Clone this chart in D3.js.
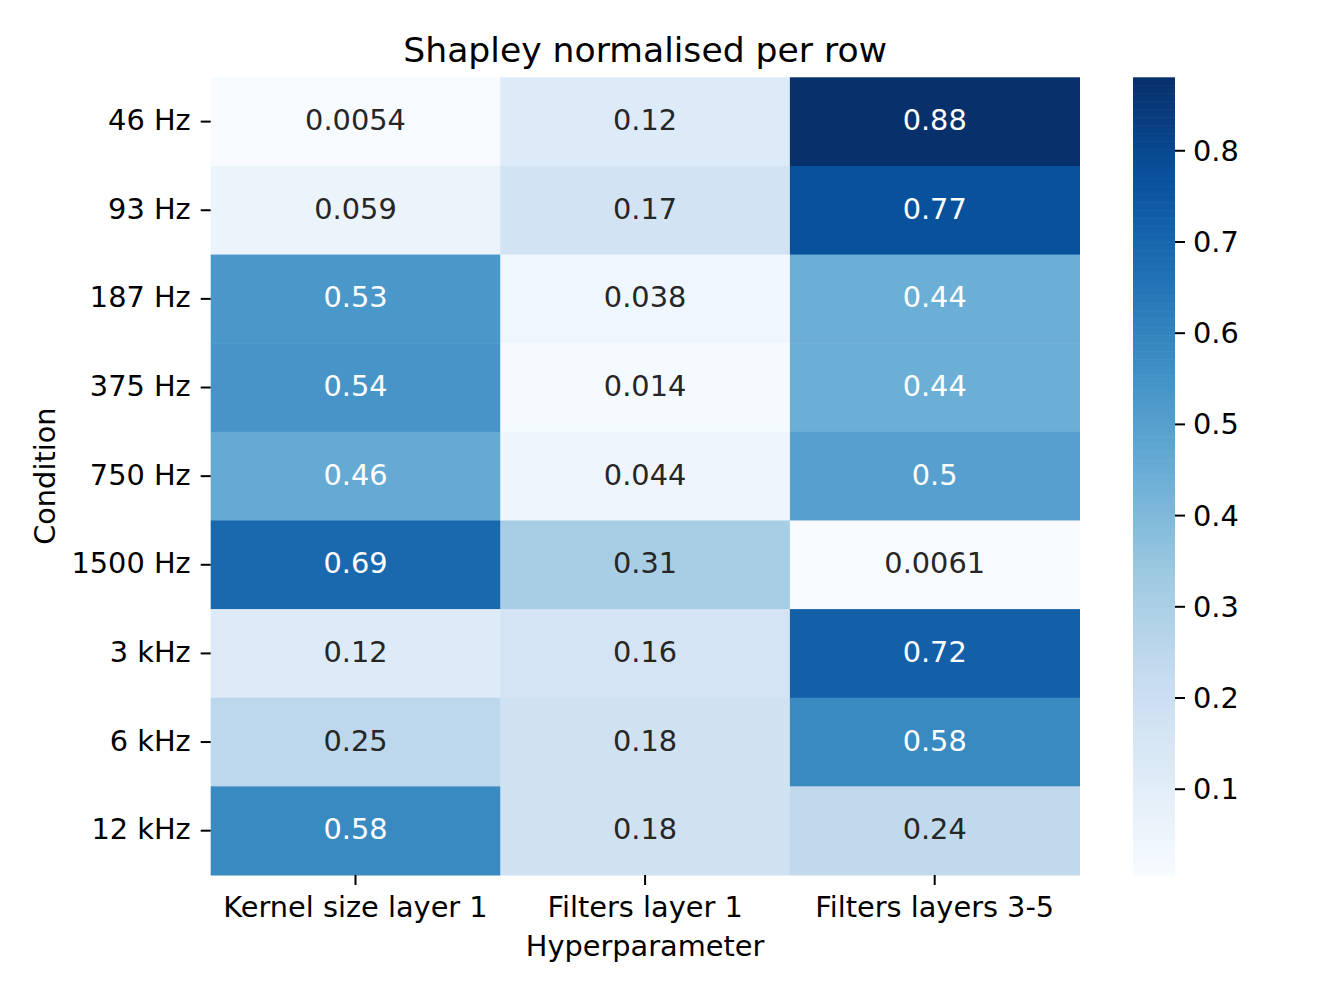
<!DOCTYPE html>
<html>
<head>
<meta charset="utf-8">
<script src="https://cdn.jsdelivr.net/npm/d3@7"></script>
<style>
  body { margin: 0; background: #fff; }
  text { font-family: "DejaVu Sans", sans-serif; }
</style>
</head>
<body>
<div id="plot"></div>
<script>
const conditions = ["46 Hz", "93 Hz", "187 Hz", "375 Hz", "750 Hz", "1500 Hz", "3 kHz", "6 kHz", "12 kHz"];
const hyperparams = ["Kernel size layer 1", "Filters layer 1", "Filters layers 3-5"];
const kernelLayer1 = [0.0054, 0.059, 0.53, 0.54, 0.46, 0.69, 0.12, 0.25, 0.58];
const filtersLayer1 = [0.12, 0.17, 0.038, 0.014, 0.044, 0.31, 0.16, 0.18, 0.18];
const filtersLayers35 = [0.88, 0.77, 0.44, 0.44, 0.5, 0.0061, 0.72, 0.58, 0.24];
const colorbarTicks = [0.1, 0.2, 0.3, 0.4, 0.5, 0.6, 0.7, 0.8];
const blues = ["#f7fbff", "#deebf7", "#c6dbef", "#9ecae1", "#6baed6", "#4292c6", "#2171b5", "#08519c", "#08306b"];

const W = 1328, H = 996;
const margin = {top: 77.3, left: 210.7};
const width = 1079.5 - margin.left,
      height = 875 - margin.top;
const fs = "28.8px";

const series = [kernelLayer1, filtersLayer1, filtersLayers35];
const cells = [];
series.forEach((vals, j) => vals.forEach((v, i) => cells.push({row: conditions[i], col: hyperparams[j], v})));

const vmin = d3.min(cells, d => d.v), vmax = d3.max(cells, d => d.v);

// matplotlib Blues is a straight linear ramp through the 9 brewer colours
const t = d3.scaleLinear().domain([vmin, vmax]).range([0, 1]);
const ramp = d3.scaleLinear().domain(d3.range(9).map(k => k / 8)).range(blues).interpolate(d3.interpolateRgb).clamp(true);
const color = v => ramp(t(v));

function luminance(c) {
  const rgb = d3.rgb(c);
  const lin = x => { x /= 255; return x <= 0.03928 ? x / 12.92 : Math.pow((x + 0.055) / 1.055, 2.4); };
  return 0.2126 * lin(rgb.r) + 0.7152 * lin(rgb.g) + 0.0722 * lin(rgb.b);
}

const svg = d3.select("#plot").append("svg")
    .attr("width", W)
    .attr("height", H);

const g = svg.append("g")
    .attr("transform", `translate(${margin.left},${margin.top})`);

const x = d3.scaleBand().domain(hyperparams).range([0, width]);
const y = d3.scaleBand().domain(conditions).range([0, height]);

g.selectAll("rect.cell")
  .data(cells)
  .enter().append("rect")
    .attr("class", "cell")
    .attr("x", d => x(d.col))
    .attr("y", d => y(d.row))
    .attr("width", x.bandwidth() + 0.5)
    .attr("height", y.bandwidth() + 0.5)
    .attr("fill", d => color(d.v));

const fmt = d3.format(".2~g");
g.selectAll("text.annot")
  .data(cells)
  .enter().append("text")
    .attr("class", "annot")
    .attr("x", d => x(d.col) + x.bandwidth() / 2)
    .attr("y", d => y(d.row) + y.bandwidth() / 2 + 8.5)
    .attr("text-anchor", "middle")
    .style("font-size", fs)
    .attr("fill", d => luminance(color(d.v)) > 0.408 ? "#262626" : "#ffffff")
    .text(d => fmt(d.v));

// axes
const yAxis = g.append("g")
    .call(d3.axisLeft(y).tickSize(10).tickPadding(10));
const xAxis = g.append("g")
    .attr("transform", `translate(0,${height})`)
    .call(d3.axisBottom(x).tickSize(10).tickPadding(10));
[xAxis, yAxis].forEach(a => {
  a.select(".domain").remove();
  a.selectAll(".tick line").attr("stroke", "#000").attr("stroke-width", 2);
  a.selectAll(".tick text").attr("fill", "#000").style("font-size", fs).attr("font-family", "DejaVu Sans");
});
yAxis.selectAll(".tick text").attr("dy", null).attr("y", 8.6);
xAxis.selectAll(".tick text").attr("dy", null).attr("y", 42.3);

// labels
svg.append("text")
    .attr("x", margin.left + width / 2)
    .attr("y", 61.5)
    .attr("text-anchor", "middle")
    .style("font-size", "34.6px")
    .text("Shapley normalised per row");

svg.append("text")
    .attr("x", margin.left + width / 2)
    .attr("y", 956)
    .attr("text-anchor", "middle")
    .style("font-size", fs)
    .text("Hyperparameter");

svg.append("text")
    .attr("transform", `translate(54.5,${margin.top + height / 2}) rotate(-90)`)
    .attr("text-anchor", "middle")
    .style("font-size", fs)
    .text("Condition");

// colorbar
const cbX = 1133, cbW = 42;
const cy = d3.scaleLinear().domain([vmin, vmax]).range([875, 77.3]);
const cb = svg.append("g");
const steps = 300;
cb.selectAll("rect")
  .data(d3.range(steps))
  .enter().append("rect")
    .attr("x", cbX)
    .attr("width", cbW)
    .attr("y", k => cy(vmin + (vmax - vmin) * (k + 1) / steps))
    .attr("height", k => cy(vmin + (vmax - vmin) * k / steps) - cy(vmin + (vmax - vmin) * (k + 1) / steps) + 0.6)
    .attr("fill", k => color(vmin + (vmax - vmin) * (k + 0.5) / steps));

const cAxis = svg.append("g")
    .attr("transform", `translate(${cbX + cbW},0)`)
    .call(d3.axisRight(cy).tickValues(colorbarTicks).tickFormat(d3.format(".1f")).tickSize(10).tickPadding(8));
cAxis.select(".domain").remove();
cAxis.selectAll(".tick line").attr("stroke", "#000").attr("stroke-width", 2);
cAxis.selectAll(".tick text").attr("fill", "#000").style("font-size", fs).attr("font-family", "DejaVu Sans")
    .attr("dy", null).attr("y", 10);
</script>
</body>
</html>
